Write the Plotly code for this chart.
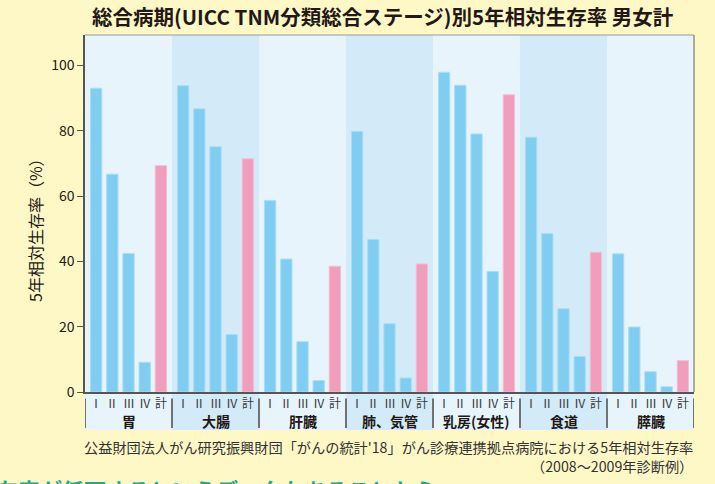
import plotly.graph_objects as go

# ---- data ----
groups = ["胃", "大腸", "肝臓", "肺、気管", "乳房(女性)", "食道", "膵臓"]
stages = ["Ⅰ", "Ⅱ", "Ⅲ", "Ⅳ", "計"]
stage_I = [93.0, 93.8, 58.6, 79.8, 97.9, 78.0, 42.3]
stage_II = [66.7, 86.7, 40.7, 46.7, 93.9, 48.5, 19.9]
stage_III = [42.4, 75.1, 15.4, 20.9, 79.0, 25.5, 6.2]
stage_IV = [9.1, 17.6, 3.5, 4.3, 36.9, 10.9, 1.6]
total = [69.3, 71.4, 38.5, 39.2, 91.0, 42.8, 9.6]
y_ticks = [0, 20, 40, 60, 80, 100]

title = "総合病期(UICC TNM分類総合ステージ)別5年相対生存率 男女計"
y_title = "5年相対生存率（%）"
source1 = "公益財団法人がん研究振興財団「がんの統計'18」がん診療連携拠点病院における5年相対生存率"
source2 = "（2008〜2009年診断例）"
bottom_text = "存率が低下するというデータもあることから"

# ---- styles ----
FONT = "Noto Sans CJK JP"
PAPER = "#FDF8C6"
BAND_LIGHT = "#E7F4FC"
BAND_DARK = "#D3EAF8"
BLUE = "#7FCEF1"
BLUE_EDGE = "#ABDDF4"
PINK = "#F19EBD"
PINK_EDGE = "#F6BDD2"
DARK = "#231815"
AXIS = "#555555"

PITCH = 0.186
BAR_W = 0.13
Y_MAX = 109.3

W, H = 715, 484
L, R, T, B = 85, 21, 35, 92
PH = H - T - B
PW = W - L - R


def py(px):  # pixel y -> paper y
    return (H - B - px) / PH


def pxx(px):  # pixel x -> paper x
    return (px - L) / PW


stage_values = [stage_I, stage_II, stage_III, stage_IV, total]

fig = go.Figure()

blue_x, blue_y, pink_x, pink_y = [], [], [], []
for si, vals in enumerate(stage_values):
    for g, v in enumerate(vals):
        xpos = g + 0.5 + (si - 2) * PITCH
        if si < 4:
            blue_x.append(xpos)
            blue_y.append(v)
        else:
            pink_x.append(xpos)
            pink_y.append(v)

fig.add_trace(go.Bar(x=blue_x, y=blue_y, width=BAR_W,
                     marker=dict(color=BLUE, line=dict(color=BLUE_EDGE, width=1)),
                     showlegend=False, hoverinfo="y"))
fig.add_trace(go.Bar(x=pink_x, y=pink_y, width=BAR_W,
                     marker=dict(color=PINK, line=dict(color=PINK_EDGE, width=1)),
                     showlegend=False, hoverinfo="y"))

shapes = []
band_bottom = py(430)
for g in range(len(groups)):
    shapes.append(dict(type="rect", xref="x", yref="paper", x0=g, x1=g + 1,
                       y0=band_bottom, y1=1, fillcolor=BAND_DARK if g % 2 else BAND_LIGHT,
                       line=dict(width=0), layer="below"))
for g in range(len(groups) + 1):
    shapes.append(dict(type="line", xref="x", yref="paper", x0=g, x1=g,
                       y0=py(398.5), y1=py(428), line=dict(color="#4a4a4a", width=1.5)))
shapes.append(dict(type="line", xref="paper", yref="paper", x0=0, x1=1, y0=1, y1=1,
                   line=dict(color="#9a9a9a", width=1.2)))
shapes.append(dict(type="line", xref="paper", yref="paper", x0=1, x1=1, y0=0, y1=1,
                   line=dict(color="#7a7a7a", width=1.2)))

annotations = []
for g, name in enumerate(groups):
    for si, s in enumerate(stages):
        annotations.append(dict(x=g + 0.5 + (si - 2) * PITCH, y=py(403), xref="x", yref="paper",
                                text=s, showarrow=False, yanchor="middle", xanchor="center",
                                font=dict(family=FONT, size=12, color="#3a3a3a")))
    annotations.append(dict(x=g + 0.5, y=py(420.5), xref="x", yref="paper", text="<b>" + name + "</b>",
                            showarrow=False, yanchor="middle", xanchor="center",
                            font=dict(family=FONT, size=14, color=DARK)))

annotations.append(dict(x=pxx(383), y=py(16), xref="paper", yref="paper", text="<b>" + title + "</b>",
                        showarrow=False, yanchor="middle", xanchor="center",
                        font=dict(family=FONT, size=20.5, color=DARK)))
annotations.append(dict(x=pxx(35), y=py(226), xref="paper", yref="paper", text=y_title,
                        textangle=-90, showarrow=False, yanchor="middle", xanchor="center",
                        font=dict(family=FONT, size=16, color=DARK)))
annotations.append(dict(x=pxx(695), y=py(447), xref="paper", yref="paper", text=source1,
                        showarrow=False, yanchor="middle", xanchor="right",
                        font=dict(family=FONT, size=14.2, color="#333333")))
annotations.append(dict(x=pxx(695), y=py(466), xref="paper", yref="paper", text=source2,
                        showarrow=False, yanchor="middle", xanchor="right",
                        font=dict(family=FONT, size=14.2, color="#333333")))
annotations.append(dict(x=pxx(-6), y=py(489), xref="paper", yref="paper", text="<b>" + bottom_text + "</b>",
                        showarrow=False, yanchor="middle", xanchor="left",
                        font=dict(family=FONT, size=22, color="#1FA98C")))

fig.update_layout(
    width=W, height=H,
    margin=dict(l=L, r=R, t=T, b=B),
    paper_bgcolor=PAPER,
    plot_bgcolor="rgba(0,0,0,0)",
    barmode="overlay",
    shapes=shapes,
    annotations=annotations,
    xaxis=dict(range=[0, len(groups)], showticklabels=False, showgrid=False, zeroline=False,
               showline=True, linecolor=AXIS, linewidth=1.5, ticks=""),
    yaxis=dict(range=[0, Y_MAX], tickvals=y_ticks, showgrid=False, zeroline=False,
               showline=True, linecolor=AXIS, linewidth=1.5, ticks="outside", ticklen=6,
               tickcolor=AXIS, tickwidth=1.2,
               tickfont=dict(family=FONT, size=14, color=DARK)),
    font=dict(family=FONT),
)

fig.write_html("out.html", config={"displayModeBar": False},
               post_script="document.body.style.margin='0';document.body.style.overflow='hidden';")
